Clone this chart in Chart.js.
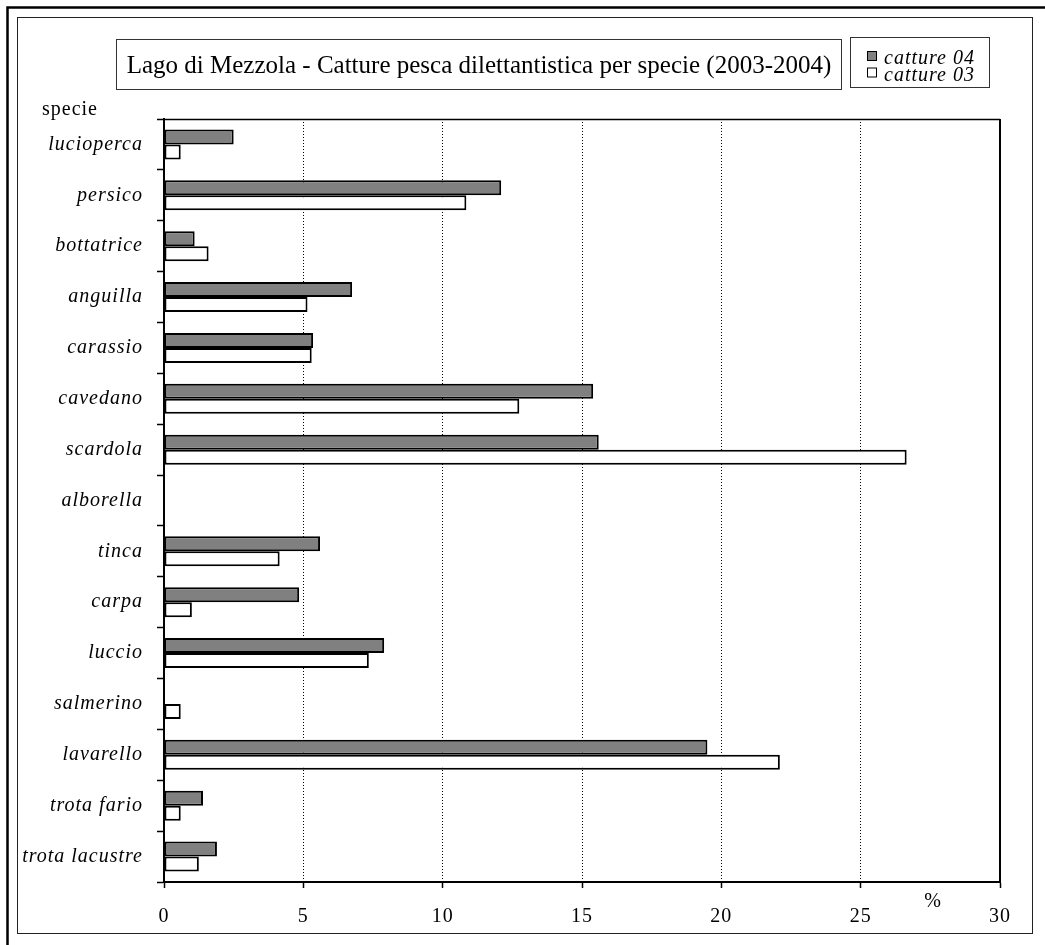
<!DOCTYPE html>
<html>
<head>
<meta charset="utf-8">
<script src="https://cdn.jsdelivr.net/npm/chart.js@4/dist/chart.umd.min.js"></script>
<style>
  html, body { margin: 0; padding: 0; background: #ffffff; }
  canvas { display: block; }
</style>
</head>
<body>
<canvas id="chart" width="1045" height="945"></canvas>
<script>
// Species, top to bottom
const species = ['lucioperca', 'persico', 'bottatrice', 'anguilla', 'carassio', 'cavedano',
  'scardola', 'alborella', 'tinca', 'carpa', 'luccio', 'salmerino', 'lavarello',
  'trota fario', 'trota lacustre'];

// Share of catches (%) per species
const catture04 = [2.5, 12.1, 1.1, 6.75, 5.35, 15.4, 15.6, 0, 5.6, 4.85, 7.9, 0, 19.5, 1.4, 1.9];
const catture03 = [0.6, 10.85, 1.6, 5.15, 5.3, 12.75, 26.65, 0, 4.15, 1.0, 7.35, 0.6, 22.1, 0.6, 1.25];

const seriesNames = ['catture 04', 'catture 03'];
const xTicks = [0, 5, 10, 15, 20, 25, 30];

const titleText = 'Lago di Mezzola - Catture pesca dilettantistica per specie (2003-2004)';
const serif = '"Liberation Serif", "Times New Roman", serif';

const decorations = {
  id: 'decorations',
  beforeDraw(chart) {
    const ctx = chart.ctx;
    ctx.save();
    ctx.fillStyle = '#ffffff';
    ctx.fillRect(0, 0, chart.width, chart.height);
    ctx.restore();
    ctx.letterSpacing = '1px';
  },
  afterDraw(chart) {
    const ctx = chart.ctx;
    const a = chart.chartArea;
    ctx.save();
    ctx.letterSpacing = '0px';

    // heavy outer rule, left and top
    ctx.strokeStyle = '#000';
    ctx.lineWidth = 2.5;
    ctx.beginPath();
    ctx.moveTo(7.5, chart.height);
    ctx.lineTo(7.5, 7.5);
    ctx.lineTo(chart.width, 7.5);
    ctx.stroke();

    // chart frame
    ctx.lineWidth = 1;
    ctx.strokeStyle = '#222';
    ctx.strokeRect(17.5, 17.5, 1015, 916);

    // plot area top and right edges
    ctx.strokeStyle = '#000';
    ctx.lineWidth = 1.5;
    ctx.beginPath();
    ctx.moveTo(a.left, a.top + 0.5);
    ctx.lineTo(a.right, a.top + 0.5);
    ctx.stroke();
    ctx.lineWidth = 2;
    ctx.beginPath();
    ctx.moveTo(a.right, a.top);
    ctx.lineTo(a.right, a.bottom);
    ctx.stroke();

    // title box
    ctx.lineWidth = 1;
    ctx.strokeStyle = '#333';
    ctx.strokeRect(116.5, 39.5, 725, 50);
    ctx.fillStyle = '#000';
    ctx.font = '25px ' + serif;
    ctx.textAlign = 'center';
    ctx.textBaseline = 'alphabetic';
    ctx.fillText(titleText, 479, 73);

    // legend box
    ctx.strokeRect(850.5, 37.5, 139, 50);
    ctx.letterSpacing = '1px';
    ctx.font = 'italic 20px ' + serif;
    ctx.textAlign = 'left';
    chart.data.datasets.forEach((ds, i) => {
      const y = 51 + i * 16.5;
      ctx.fillStyle = ds.backgroundColor;
      ctx.fillRect(867, y, 9, 9);
      ctx.strokeStyle = '#000';
      ctx.lineWidth = 1;
      ctx.strokeRect(867.5, y + 0.5, 9, 9);
      ctx.fillStyle = '#000';
      ctx.fillText(ds.label, 884, y + 13);
    });

    // axis captions
    ctx.font = '20px ' + serif;
    ctx.fillText('specie', 42, 115);
    ctx.textAlign = 'center';
    ctx.fillText('%', 933, 907);
    ctx.restore();
  }
};

new Chart(document.getElementById('chart'), {
  type: 'bar',
  data: {
    labels: species,
    datasets: [
      { label: seriesNames[0], data: catture04, backgroundColor: '#808080',
        borderColor: '#000', borderWidth: 2, borderSkipped: false },
      { label: seriesNames[1], data: catture03, backgroundColor: '#ffffff',
        borderColor: '#000', borderWidth: 2, borderSkipped: false }
    ]
  },
  options: {
    indexAxis: 'y',
    responsive: false,
    animation: false,
    devicePixelRatio: 1,
    layout: { padding: { top: 119, right: 45, bottom: 0, left: 0 } },
    datasets: { bar: { categoryPercentage: 0.59, barPercentage: 1.0 } },
    plugins: { legend: { display: false }, title: { display: false }, tooltip: { enabled: false } },
    scales: {
      x: {
        type: 'linear',
        min: 0, max: 30,
        afterBuildTicks: s => { s.ticks = xTicks.map(v => ({ value: v })); },
        afterFit: s => { s.height = 63; },
        grid: {
          drawOnChartArea: true,
          drawTicks: true,
          tickLength: 6,
          tickColor: '#000',
          tickWidth: 1.5,
          tickBorderDash: [],
          lineWidth: 1,
          color: c => (c.tick && (c.tick.value === 0 || c.tick.value === 30)) ? 'rgba(0,0,0,0)' : '#000'
        },
        border: { display: true, color: '#000', width: 2, dash: [1, 2] },
        ticks: {
          color: '#000',
          padding: 17,
          font: { family: serif, size: 20 },
          maxRotation: 0
        }
      },
      y: {
        afterFit: s => { s.width = 164; },
        grid: {
          offset: true,
          drawOnChartArea: false,
          drawTicks: true,
          tickLength: 7,
          tickColor: '#000',
          tickWidth: 1.5
        },
        border: { display: true, color: '#000', width: 2 },
        ticks: {
          color: '#000',
          padding: 14,
          font: { family: serif, size: 20, style: 'italic' }
        }
      }
    }
  },
  plugins: [decorations]
});
</script>
</body>
</html>
